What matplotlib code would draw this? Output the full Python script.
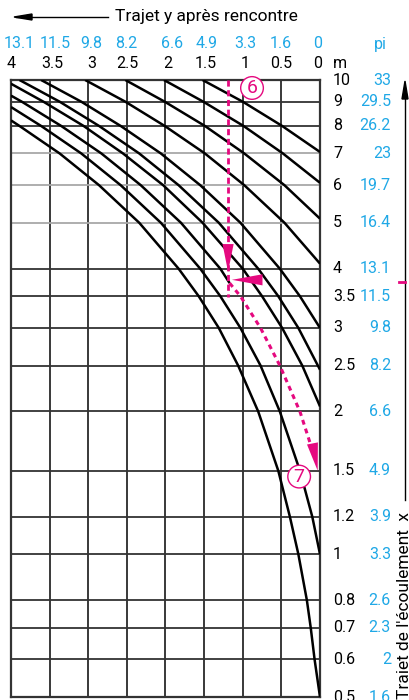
import matplotlib.pyplot as plt
from matplotlib import transforms

plt.rcParams['font.family'] = ['Roboto', 'DejaVu Sans']

pink = '#e5097f'
blue = '#1fa8e6'

# axe horizontal : trajet y (m / pi)
dist_m = [4, 3.5, 3, 2.5, 2, 1.5, 1, 0.5, 0]
dist_lab = ['4', '3.5', '3', '2.5', '2', '1.5', '1', '0.5', '0']
dist_pi = ['13.1', '11.5', '9.8', '8.2', '6.6', '4.9', '3.3', '1.6', '0']
pi_nudge = [8, 6, 3, -1, 7, 2, 3, -1, -2]   # decalage en px des etiquettes
m_nudge = [0, 3, 3, 1, 2, 2, 2, 0, -2]

# axe vertical : trajet x (m / pi), echelle log
levels = [10, 9, 8, 7, 6, 5, 4, 3.5, 3, 2.5, 2, 1.5, 1.2, 1, 0.8, 0.7, 0.6, 0.5]
levels_lab = ['10', '9', '8', '7', '6', '5', '4', '3.5', '3', '2.5', '2', '1.5',
              '1.2', '1', '0.8', '0.7', '0.6', '0.5']
levels_pi = ['33', '29.5', '26.2', '23', '19.7', '16.4', '13.1', '11.5', '9.8', '8.2',
             '6.6', '4.9', '3.9', '3.3', '2.6', '2.3', '2', '1.6']
light_levels = [7, 6, 5]

# trajet y lu sur chaque courbe aux hauteurs 10, 9, 8 ... 0.6 (None = hors cadre)
c1 = [1.52, 1.00, 0.49]
c2 = [2.02, 1.51, 0.99, 0.48]
c3 = [2.52, 2.01, 1.49, 0.98, 0.46]
c4 = [3.04, 2.52, 2.01, 1.49, 0.98, 0.46]
c5 = [3.61, 3.09, 2.58, 2.06, 1.55, 1.03, 0.52, 0.26]
c6 = [3.89, 3.37, 2.86, 2.34, 1.83, 1.31, 0.80, 0.54, 0.28]
c7 = [None, 3.58, 3.06, 2.55, 2.03, 1.52, 1.00, 0.75, 0.49, 0.23]
c8 = [None, 3.86, 3.35, 2.83, 2.32, 1.80, 1.29]
c9 = [None, None, 3.61, 3.09, 2.58, 2.06, 1.55, 1.29, 1.03, 0.77, 0.52, 0.26, 0.10]
c10 = [None, None, 3.89, 3.37, 2.86, 2.34, 1.83, 1.57, 1.31, 1.06, 0.80, 0.54, 0.39,
       0.28, 0.17, 0.12, 0.07]
curves = [c1, c2, c3, c4, c5, c6, c7, c8, c9, c10]
start_x = [None, None, None, None, None, None, 9.82, 9.27, 8.77, 8.22]  # entree bord gauche (y=4)
end_x = [7.05, 6.07, 5.1, 4.1, 3.0, 2.45, 2.05, 3.73, 1.0, 0.5]         # fin de la courbe noire
end_y = [0, 0, 0, 0, 0, 0, 0, 1.17, 0, 0]

# exemple de lecture (6) -> (7), suit la courbe 1.5 en pointille
ex_y = 1.19
ex_top, ex_bottom = 10, 3.48
ex_arrow1 = (4.53, 3.94)
ex_hx = 3.79
ex_harrow = (0.75, 1.14)
diag_x = [3.73, 3.5, 3, 2.5, 2, 1.7]
diag_y = [1.17, 1.03, 0.77, 0.52, 0.26, 0.12]
diag_tip = (0.03, 1.5)
lab6 = (0.88, 9.62)
lab7 = (0.27, 1.458)

fig = plt.figure(figsize=(4.1, 7.0), dpi=100)
ax = fig.add_axes([11/410, 3/700, 309/410, 617/700])
ax.set_yscale('log')
ax.set_xlim(4, 0)
ax.set_ylim(0.5, 10)
ax.set_xticks([])
ax.set_yticks([])
ax.yaxis.set_minor_locator(plt.NullLocator())
for s in ax.spines.values():
    s.set_color('#333333')
    s.set_linewidth(1.6)

for v in dist_m[1:-1]:
    ax.axvline(v, color='#2a2a2a', lw=1.3, zorder=1)
for lv in levels[1:-1]:
    c = '#a8a8a8' if lv in light_levels else '#333333'
    ax.axhline(lv, color=c, lw=1.3, zorder=1)

for c, sx, ex, ey in zip(curves, start_x, end_x, end_y):
    hs, xs = [], []
    if sx is not None:
        hs.append(4)
        xs.append(sx)
    for h, lv in zip(c, levels):
        if h is not None:
            hs.append(h)
            xs.append(lv)
    hs.append(ey)
    xs.append(ex)
    ax.plot(hs, xs, color='black', lw=1.8, zorder=3, solid_capstyle='butt')

# annotations roses
ax.plot([ex_y, ex_y], [ex_top, ex_bottom], color=pink, lw=2.0, ls=(0, (2.2, 1.3)), zorder=4)
ax.annotate('', xy=(ex_y, ex_arrow1[1]), xytext=(ex_y, ex_arrow1[0]),
            arrowprops=dict(arrowstyle='-|>,head_length=2.0,head_width=0.4', color=pink,
                            lw=0, shrinkA=0, shrinkB=0, mutation_scale=10), zorder=5)
ax.annotate('', xy=(ex_harrow[1], ex_hx), xytext=(ex_harrow[0], ex_hx),
            arrowprops=dict(arrowstyle='-|>,head_length=2.2,head_width=0.4', color=pink,
                            lw=0, shrinkA=0, shrinkB=0, mutation_scale=10), zorder=5)
ax.plot(diag_y, diag_x, color=pink, lw=2.2, ls=(0, (1.6, 1.4)), zorder=4)
ax.annotate('', xy=(diag_tip[0], diag_tip[1]), xytext=(0.1, 1.72),
            arrowprops=dict(arrowstyle='-|>,head_length=2.0,head_width=0.4', color=pink,
                            lw=0, shrinkA=0, shrinkB=0, mutation_scale=10), zorder=5)
for txt, pos in [('6', lab6), ('7', lab7)]:
    ax.text(pos[0], pos[1], txt, color=pink, fontsize=14, ha='center', va='center', zorder=6,
            bbox=dict(boxstyle='circle,pad=0.12', fc='white', ec=pink, lw=1.0))

# etiquettes du haut
tr_top = transforms.blended_transform_factory(ax.transData, fig.transFigure)
for v, lab, lp, nb, nm in zip(dist_m, dist_lab, dist_pi, pi_nudge, m_nudge):
    tb = transforms.offset_copy(tr_top, fig=fig, x=nb * 0.72, units='points')
    tm = transforms.offset_copy(tr_top, fig=fig, x=nm * 0.72, units='points')
    fig.text(v, 1 - 44/700, lp, transform=tb, color=blue, fontsize=11.5, ha='center', va='center')
    fig.text(v, 1 - 64/700, lab, transform=tm, color='black', fontsize=11.5, ha='center', va='center')
fig.text(380/410, 1 - 44/700, 'pi', color=blue, fontsize=11.5, ha='center', va='center')
fig.text(340/410, 1 - 64/700, 'm', color='black', fontsize=11.5, ha='center', va='center')

# etiquettes de droite
tr_right = transforms.blended_transform_factory(fig.transFigure, ax.transData)
for lv, lab, lp in zip(levels, levels_lab, levels_pi):
    fig.text(333/410, lv, lab, transform=tr_right, color='black', fontsize=11.5, ha='left', va='center')
    fig.text(391/410, lv, lp, transform=tr_right, color=blue, fontsize=11.5, ha='right', va='center')

# titres des axes
fig.text(115/410, 1 - 17/700, 'Trajet y après rencontre', fontsize=12.5, ha='left', va='center')
fig.add_artist(plt.Line2D([16/410, 108/410], [1 - 17/700, 1 - 17/700], color='black', lw=1.0))
fig.patches.append(plt.Polygon([[14/410, 1 - 17/700], [32/410, 1 - 14/700], [32/410, 1 - 20/700]],
                               closed=True, color='black', transform=fig.transFigure))
fig.text(405/410, 1/700, "Traiet de l'écoulement  x", fontsize=12.5, rotation=90,
         ha='center', va='bottom')
fig.add_artist(plt.Line2D([405/410, 405/410], [1 - 500/700, 1 - 95/700], color='black', lw=1.0))
fig.patches.append(plt.Polygon([[405/410, 1 - 81/700], [402/410, 1 - 99/700], [408/410, 1 - 99/700]],
                               closed=True, color='black', transform=fig.transFigure))
fig.add_artist(plt.Line2D([399/410, 405/410], [1 - 282/700, 1 - 282/700], color=pink, lw=2.0))

fig.savefig('out.png', dpi=100)
